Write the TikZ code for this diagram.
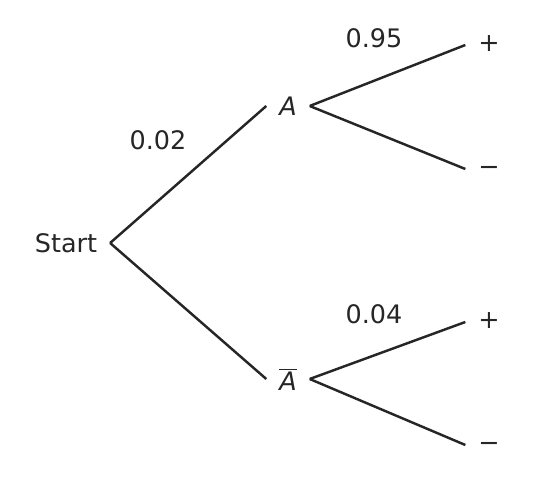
\documentclass[tikz,border=0pt]{standalone}
\usepackage{fontspec}
\setmainfont{DejaVu Sans}
\usetikzlibrary{calc}

\begin{document}
\begin{tikzpicture}[x=0.02cm, y=-0.02cm]

% ---------- styles ----------
\tikzset{
  branch/.style={line width=1.4pt, draw=black!85},
  event/.style={inner sep=0pt, outer sep=0.26cm, font=\fontsize{14.5}{17}\selectfont, text=black!85},
  sign/.style={event, text height=0.7em, text depth=0pt},
  prob/.style={inner sep=0pt, font=\fontsize{14.5}{17}\selectfont, text=black!85}
}

% ---------- frame ----------
\useasboundingbox (0,0) rectangle (535,486);

% ---------- root ----------
\node[event] (start) at (66,243) {Start};

% ---------- first stage ----------
\node[event] (a) at (288,106) {\textit{A}};
\node[event] (abar) at (288,379) {$\overline{\hbox{\itshape A}}$};

\draw[branch] (start.east) -- (a.west);
\draw[branch] (start.east) -- (abar.west);
\node[prob] (pa) at (158,140) {0.02};

% ---------- second stage, A ----------
\node[sign] (apos) at (489,45) {+};
\node[sign] (aneg) at (489,169) {−};
\draw[branch] (a.east) -- (apos.west);
\draw[branch] (a.east) -- (aneg.west);
\node[prob] (ppos) at (374,38) {0.95};

% ---------- second stage, not A ----------
\node[sign] (bpos) at (489,322) {+};
\node[sign] (bneg) at (489,445) {−};
\draw[branch] (abar.east) -- (bpos.west);
\draw[branch] (abar.east) -- (bneg.west);
\node[prob] (pb) at (374,314) {0.04};

\end{tikzpicture}
\end{document}
